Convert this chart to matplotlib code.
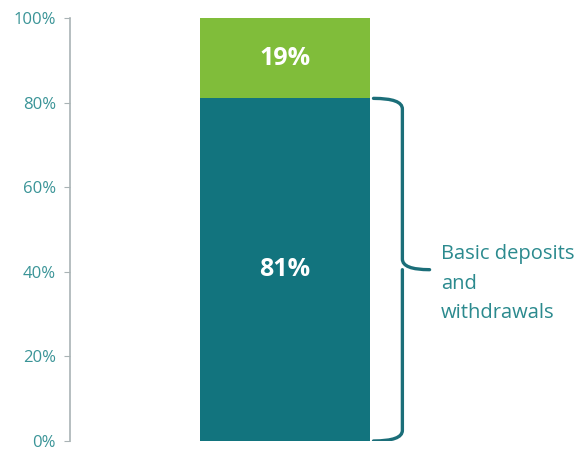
import matplotlib
matplotlib.use('Agg')
import numpy as np
from matplotlib import pyplot as plt
from matplotlib.path import Path
from matplotlib.patches import PathPatch

# data
segments = ['Basic deposits and withdrawals', 'Other']
values = [81, 19]
seg_colors = ['#12747e', '#80bd3a']
bracket_label = 'Basic deposits\nand\nwithdrawals'
yticks = [0, 20, 40, 60, 80, 100]

teal_txt = '#2b8a8e'

plt.rcParams['font.family'] = ['Open Sans', 'DejaVu Sans']

fig = plt.figure(figsize=(5.86, 4.53), dpi=100)
ax = fig.add_axes([70 / 586, 12 / 453, 516 / 586, 423 / 453])

bottom = 0
for v, c in zip(values, seg_colors):
    ax.bar(0, v, width=1.0, bottom=bottom, color=c, edgecolor='none')
    ax.text(0, bottom + v / 2, f'{v}%', ha='center', va='center',
            color='white', fontsize=18, fontweight='bold')
    bottom += v

# curly bracket next to the big segment
top = values[0]
mid = top / 2
x0, x1, x2 = 0.52, 0.69, 0.85
verts = [(x0, top), (x1, top), (x1, top - 2.5),
         (x1, mid + 2.5), (x1, mid), (x2, mid),
         (x1, mid), (x1, mid - 2.5),
         (x1, 2.5), (x1, 0), (x0, 0)]
codes = [Path.MOVETO, Path.CURVE3, Path.CURVE3,
         Path.LINETO, Path.CURVE3, Path.CURVE3,
         Path.MOVETO, Path.CURVE3,
         Path.LINETO, Path.CURVE3, Path.CURVE3]
ax.add_patch(PathPatch(Path(verts, codes), facecolor='none',
                       edgecolor='#1b6e79', lw=2.4, capstyle='round'))
ax.text(0.915, mid - 3.3, bracket_label, ha='left', va='center',
        color=teal_txt, fontsize=14.5, linespacing=1.65)

ax.set_xlim(-1.265, 1.77)
ax.set_ylim(0, 100)
ax.set_yticks(yticks)
ax.set_yticklabels([f'{t}%' for t in yticks], color='#3a9497', fontsize=12)
ax.set_xticks([])
for s in ['top', 'right', 'bottom']:
    ax.spines[s].set_visible(False)
ax.spines['left'].set_color('#a9b3b5')
ax.spines['left'].set_linewidth(1.2)
ax.tick_params(axis='y', direction='out', length=4, color='#a9b3b5', pad=6)

fig.savefig('out.png', dpi=100)
